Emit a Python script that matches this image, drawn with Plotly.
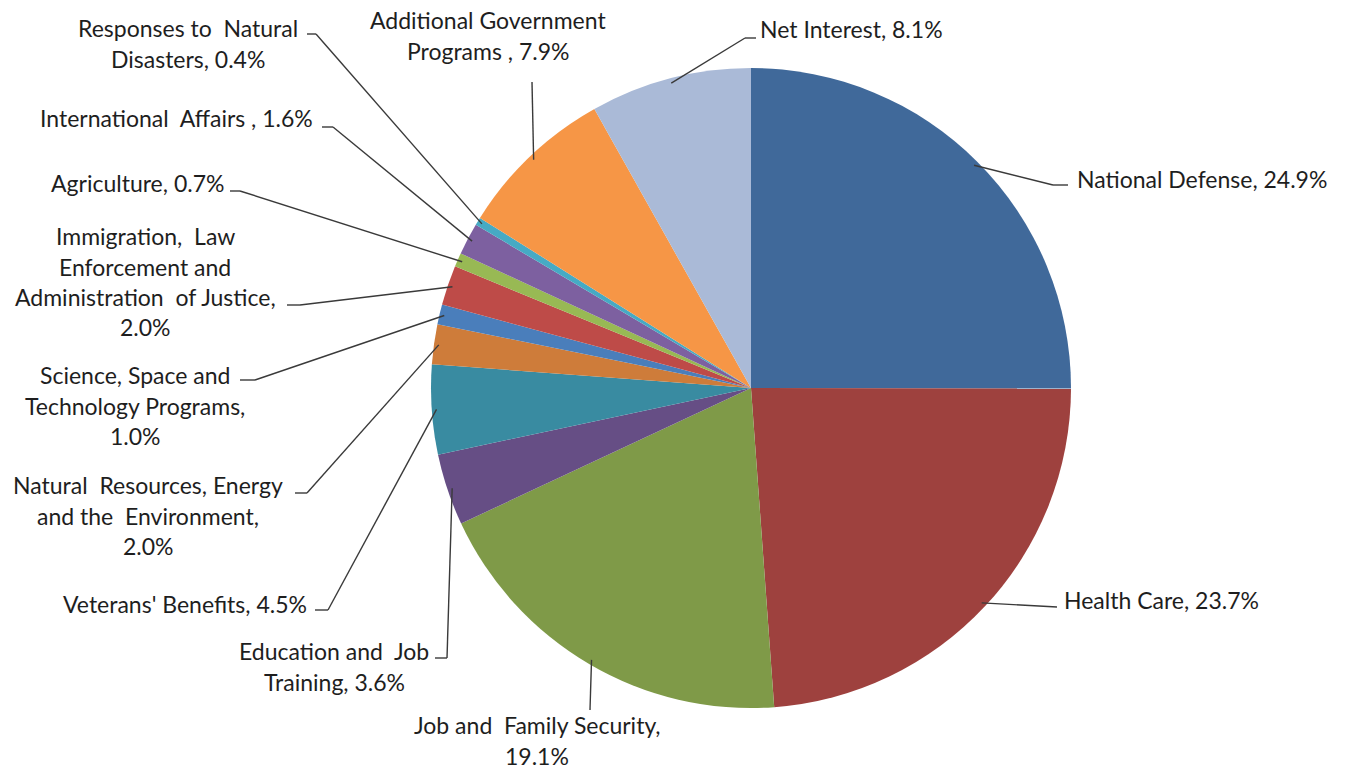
import math
import plotly.graph_objects as go

# ---------------- data ----------------
categories = [
    "National Defense", "Health Care", "Job and Family Security",
    "Education and Job Training", "Veterans' Benefits",
    "Natural Resources, Energy and the Environment",
    "Science, Space and Technology Programs",
    "Immigration, Law Enforcement and Administration of Justice",
    "Agriculture", "International Affairs", "Responses to Natural Disasters",
    "Additional Government Programs", "Net Interest",
]
values = [24.9, 23.7, 19.1, 3.6, 4.5, 2.0, 1.0, 2.0, 0.7, 1.6, 0.4, 7.9, 8.1]
label_lines = [
    ["National Defense, {p}"],
    ["Health Care, {p}"],
    ["Job and  Family Security,", "{p}"],
    ["Education and  Job", "Training, {p}"],
    ["Veterans' Benefits, {p}"],
    ["Natural  Resources, Energy", "and the  Environment,", "{p}"],
    ["Science, Space and", "Technology Programs,", "{p}"],
    ["Immigration,  Law", "Enforcement and", "Administration  of Justice,", "{p}"],
    ["Agriculture, {p}"],
    ["International  Affairs , {p}"],
    ["Responses to  Natural", "Disasters, {p}"],
    ["Additional Government", "Programs , {p}"],
    ["Net Interest, {p}"],
]
colors = ["#40699A", "#9E413E", "#7F9A48", "#664E85", "#398BA1", "#CE7C3A",
          "#4A7EBB", "#BE4B48", "#98B954", "#7D60A0", "#46AAC4", "#F69646",
          "#AABAD7"]

# ---------------- layout (pixels) ----------------
W, H = 1351, 772
CX, CY, R = 751, 388, 320
# label placement: (xanchor, x, first line y)
label_pos = [
    ("left", 1075, 179), ("left", 1062, 600), ("center", 537, 725),
    ("center", 334, 651), ("right", 309, 604), ("center", 148, 485),
    ("center", 135, 375), ("center", 145, 236), ("right", 226, 183),
    ("right", 315, 118), ("center", 188, 28), ("center", 488, 20),
    ("left", 758, 29),
]
LINE_H = 30.5
# leader line bends (after the slice point)
leader_pts = [
    [(1053, 185), (1068, 185)], [(1057, 607)], [(590, 710)],
    [(447, 658), (435, 658)], [(328, 610), (315, 610)], [(307, 493), (295, 493)],
    [(255, 380), (240, 380)], [(300, 305), (287, 305)], [(240, 191), (230, 191)],
    [(333, 127), (322, 127)], [(316, 34), (307, 34)], [(532, 82)],
    [(745, 38), (756, 38)],
]

def px(x):
    return x / W

def py(y):
    return 1 - y / H

fig = go.Figure(go.Pie(
    labels=categories, values=values, sort=False, direction="clockwise",
    rotation=0, marker=dict(colors=colors, line=dict(width=0)),
    textinfo="none", hoverinfo="label+percent", showlegend=False,
    domain=dict(x=[px(CX - R), px(CX + R)], y=[py(CY + R), py(CY - R)]),
))

total = sum(values)
cum = 0.0
shapes = []
annotations = []
FONT = dict(family="Lato, Open Sans, sans-serif", size=23, color="#1e1e1e")
for i, v in enumerate(values):
    theta = 2 * math.pi * (cum + v / 2) / total
    cum += v
    sx = CX + R * 0.985 * math.sin(theta)
    sy = CY - R * 0.985 * math.cos(theta)
    pts = [(sx, sy)] + leader_pts[i]
    for (x0, y0), (x1, y1) in zip(pts[:-1], pts[1:]):
        shapes.append(dict(type="line", xref="paper", yref="paper",
                           x0=px(x0), y0=py(y0), x1=px(x1), y1=py(y1),
                           line=dict(color="#3a3a3a", width=1.4)))
    anchor, lx, ly = label_pos[i]
    pct = f"{v:.1f}%"
    for k, line in enumerate(label_lines[i]):
        annotations.append(dict(
            xref="paper", yref="paper", x=px(lx), y=py(ly + k * LINE_H),
            xanchor=anchor, yanchor="middle", showarrow=False,
            text=line.replace("{p}", pct), font=FONT))

fig.update_layout(
    width=W, height=H, margin=dict(l=0, r=0, t=0, b=0),
    paper_bgcolor="white", plot_bgcolor="white",
    shapes=shapes, annotations=annotations,
)
fig.write_html(
    "out.html",
    config={"displayModeBar": False},
    post_script="document.body.style.margin='0';document.body.style.overflow='hidden';",
)
